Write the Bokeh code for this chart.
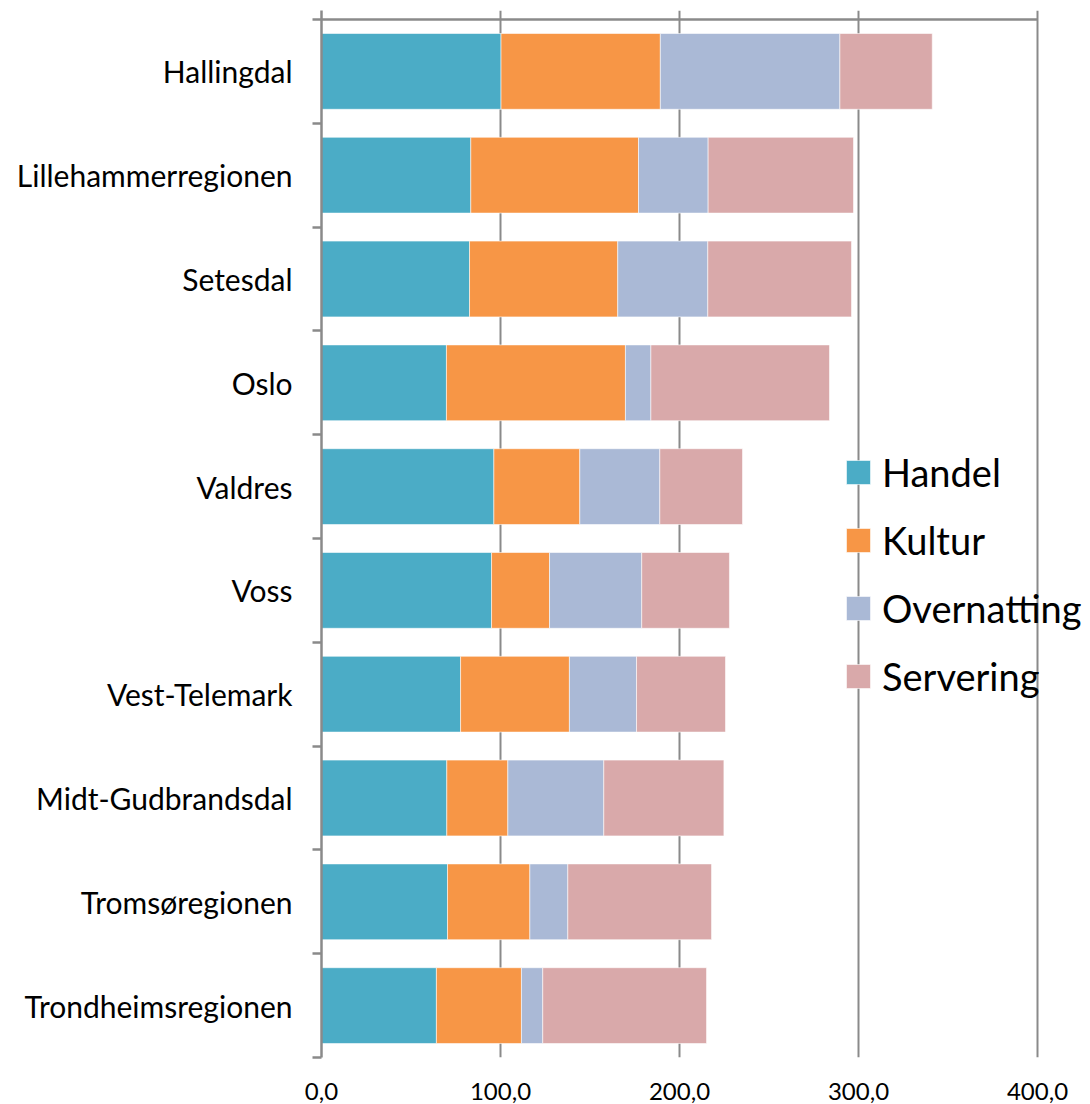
from bokeh.plotting import figure
from bokeh.models import ColumnDataSource, Range1d, FixedTicker, Legend
from bokeh.embed import file_html
from bokeh.resources import INLINE

regions = ["Hallingdal", "Lillehammerregionen", "Setesdal", "Oslo", "Valdres",
           "Voss", "Vest-Telemark", "Midt-Gudbrandsdal", "Tromsøregionen",
           "Trondheimsregionen"]
handel = [100.3, 83.4, 82.7, 69.8, 96.3, 95.0, 77.7, 70.0, 70.4, 64.2]
kultur = [89.0, 93.7, 82.8, 100.0, 48.0, 32.4, 60.8, 34.1, 46.0, 47.5]
overnatting = [100.3, 38.9, 50.3, 14.2, 44.7, 51.5, 37.5, 53.6, 21.2, 11.9]
servering = [51.6, 81.2, 80.3, 99.8, 46.2, 49.0, 49.7, 67.1, 80.3, 91.5]
series = ["Handel", "Kultur", "Overnatting", "Servering"]
colors = ["#4BACC6", "#F79646", "#AAB9D6", "#D9A9AA"]
x_ticks = [0, 100, 200, 300, 400]
x_labels = ["0,0", "100,0", "200,0", "300,0", "400,0"]

n = len(regions)
ypos = [n - 1 - i for i in range(n)]
src = ColumnDataSource(dict(y=ypos, Handel=handel, Kultur=kultur,
                            Overnatting=overnatting, Servering=servering))

px_per_unit = 716 / 400.0
frame_w = 1090 - 321
x_end = frame_w / px_per_unit

p = figure(frame_width=frame_w, frame_height=1047, output_backend="svg",
           toolbar_location=None, min_border_left=321, min_border_right=0,
           min_border_top=10, min_border_bottom=47,
           x_range=Range1d(0, x_end), y_range=Range1d(-0.5, n - 0.5 + 9 / 103.8))
p.outline_line_color = None
p.background_fill_color = "white"

rs = p.hbar_stack(series, y="y", height=0.73, color=colors, source=src,
                  line_color="white", line_width=0.8, line_alpha=0.7)

# grid
p.ygrid.visible = False
p.xgrid.ticker = FixedTicker(ticks=x_ticks[1:])
p.xgrid.grid_line_color = "#8A8A8A"
p.xgrid.grid_line_width = 2

# top line across the value range
p.segment(x0=[x_ticks[0]], x1=[x_ticks[-1]], y0=[n - 0.5], y1=[n - 0.5],
          line_color="#8A8A8A", line_width=2.5)

# x axis
xa = p.xaxis[0]
xa.ticker = FixedTicker(ticks=x_ticks)
xa.major_label_overrides = {t: l for t, l in zip(x_ticks, x_labels)}
xa.axis_line_color = None
xa.major_tick_line_color = None
xa.minor_tick_line_color = None
xa.major_tick_out = 0
xa.major_label_standoff = 25
xa.major_label_text_font = "Lato"
xa.major_label_text_font_size = "24px"
xa.major_label_text_color = "black"

# y axis
ya = p.yaxis[0]
ya.ticker = FixedTicker(ticks=ypos, minor_ticks=[k - 0.5 for k in range(n + 1)])
ya.major_label_overrides = {y: r for y, r in zip(ypos, regions)}
ya.axis_line_color = "#8A8A8A"
ya.axis_line_width = 2.5
ya.major_tick_line_color = None
ya.major_tick_out = 0
ya.major_tick_in = 0
ya.minor_tick_line_color = "#8A8A8A"
ya.minor_tick_line_width = 2.5
ya.minor_tick_out = 9
ya.minor_tick_in = 0
ya.major_label_standoff = 20
ya.major_label_text_font = "Lato"
ya.major_label_text_font_size = "30px"
ya.major_label_text_color = "black"

legend = Legend(items=[(s, [r]) for s, r in zip(series, rs)],
                location=(522, 1047 - 452 - 4 * 67.7 + 34), orientation="vertical")
legend.border_line_color = None
legend.background_fill_alpha = 0
legend.padding = 0
legend.margin = 0
legend.glyph_width = 30
legend.glyph_height = 30
legend.label_text_font = "Lato"
legend.label_text_font_size = "38px"
legend.label_text_color = "black"
legend.label_standoff = 9
legend.spacing = 22
legend.label_height = 24
p.add_layout(legend, "center")

open("out.html", "w").write(file_html(p, INLINE))
